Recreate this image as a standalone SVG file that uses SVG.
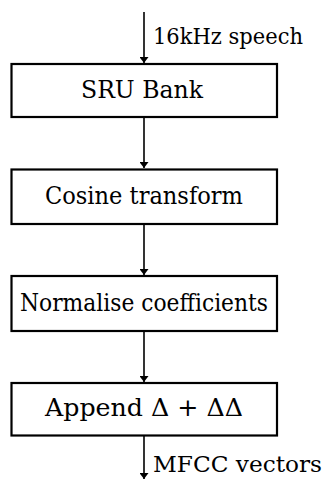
<svg xmlns="http://www.w3.org/2000/svg" width="323" height="485" viewBox="0 0 323 485">
<style>
.box{fill:#fff;stroke:#000;stroke-width:2.2}
.t{font-family:'DejaVu Serif','Liberation Serif','Times New Roman',serif;font-size:25px;fill:#000;text-anchor:middle}
.l{font-family:'DejaVu Serif','Liberation Serif','Times New Roman',serif;font-size:22px;fill:#000}
.c{stroke:#000;stroke-width:1.6;fill:none;marker-end:url(#ah)}
</style>
<defs>
<marker id="ah" viewBox="0 0 6 9" refX="6" refY="4.5" markerWidth="6" markerHeight="9" markerUnits="userSpaceOnUse" orient="auto">
<path d="M0,0 L6,4.5 L0,9 Z" fill="#000"/>
</marker>
</defs>
<g id="connectors">
<line class="c" x1="144" y1="12" x2="144" y2="63"/>
<line class="c" x1="144" y1="117" x2="144" y2="168"/>
<line class="c" x1="144" y1="224" x2="144" y2="275"/>
<line class="c" x1="144" y1="331" x2="144" y2="382"/>
<line class="c" x1="144" y1="435" x2="144" y2="479"/>
<text class="l" x="153" y="44" textLength="150" lengthAdjust="spacingAndGlyphs">16kHz speech</text>
<text class="l" x="153" y="472" textLength="169" lengthAdjust="spacingAndGlyphs">MFCC vectors</text>
</g>
<g id="sru">
<rect class="box" x="11.5" y="64" width="265.5" height="53"/>
<text class="t" x="142" y="98" textLength="122" lengthAdjust="spacingAndGlyphs">SRU Bank</text>
</g>
<g id="cosine">
<rect class="box" x="11.5" y="169.5" width="265.5" height="54.5"/>
<text class="t" x="144" y="204" textLength="198" lengthAdjust="spacingAndGlyphs">Cosine transform</text>
</g>
<g id="normalise">
<rect class="box" x="11.5" y="276" width="265.5" height="55"/>
<text class="t" x="144" y="311" textLength="248" lengthAdjust="spacingAndGlyphs">Normalise coefficients</text>
</g>
<g id="append">
<rect class="box" x="11.5" y="383" width="265.5" height="52.5"/>
<text class="t" x="144" y="416" textLength="198" lengthAdjust="spacingAndGlyphs">Append Δ + ΔΔ</text>
</g>
</svg>
